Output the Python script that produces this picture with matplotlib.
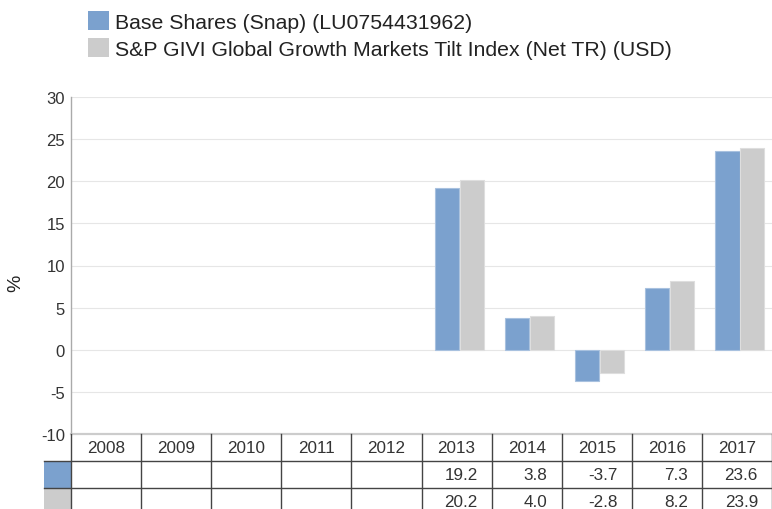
import matplotlib
matplotlib.use('Agg')
import matplotlib.pyplot as plt
import numpy as np
from matplotlib.patches import Patch, Rectangle

plt.rcParams['font.family'] = ['Liberation Sans', 'DejaVu Sans']
plt.rcParams['axes.unicode_minus'] = False

years = ['2008', '2009', '2010', '2011', '2012', '2013', '2014', '2015', '2016', '2017']
fund = [np.nan, np.nan, np.nan, np.nan, np.nan, 19.2, 3.8, -3.7, 7.3, 23.6]
index = [np.nan, np.nan, np.nan, np.nan, np.nan, 20.2, 4.0, -2.8, 8.2, 23.9]
names = ['Base Shares (Snap) (LU0754431962)',
         'S&P GIVI Global Growth Markets Tilt Index (Net TR) (USD)']
colors = ['#7BA1CE', '#CCCCCC']
edges = ['#A8C1DF', '#DEDEDE']

W, H = 772, 510
fig = plt.figure(figsize=(W / 100, H / 100), dpi=100)

# main plot area in pixels: x 71..772, y 98..435
ax = fig.add_axes([71 / W, 1 - 435 / H, 701 / W, 337 / H])
x = np.arange(len(years))
bw = 0.343
ax.bar(x - 0.135, fund, bw, color=colors[0], edgecolor=edges[0], lw=0.8, zorder=3)
ax.bar(x + 0.215, index, bw, color=colors[1], edgecolor=edges[1], lw=0.8, zorder=3)

ax.set_xlim(-0.5, len(years) - 0.5)
ax.set_ylim(-10, 30)
ax.set_yticks(range(-10, 31, 5))
ax.set_xticks([])
ax.grid(axis='y', color='#E6E6E6', lw=0.8, zorder=0)
ax.tick_params(axis='y', length=0, pad=4.5, labelsize=12, labelcolor='#333333')
for s in ['top', 'right']:
    ax.spines[s].set_visible(False)
ax.spines['left'].set_color('#AAAAAA')
ax.spines['left'].set_linewidth(1.0)
ax.spines['bottom'].set_color('#CCCCCC')
ax.spines['bottom'].set_linewidth(1.6)
ax.spines['bottom'].set_zorder(5)
ax.set_ylabel('%', fontsize=14, color='#222222')
ax.yaxis.set_label_coords(-0.066, 0.45)

# data table under the plot, same x scale as the bars; rows are 27px
lab_w = 27 / 70.1
tax = fig.add_axes([44 / W, 1 - 516 / H, 728 / W, 81 / H])
tax.set_xlim(-0.5 - lab_w, len(years) - 0.5)
tax.set_ylim(3, 0)
tax.axis('off')
line_kw = dict(color='#444444', lw=1.0, clip_on=False)
for k in range(len(years) + 1):
    tax.plot([k - 0.5, k - 0.5], [0, 3], **line_kw)
for r in [1, 2, 3]:
    tax.plot([-0.5 - lab_w, len(years) - 0.5], [r, r], **line_kw)
for j, yr in enumerate(years):
    tax.text(j, 0.5, yr, ha='center', va='center', fontsize=12.3, color='#333333')
for i, series in enumerate([fund, index]):
    tax.add_patch(Rectangle((-0.5 - lab_w, i + 1), lab_w, 1, facecolor=colors[i],
                            edgecolor='none', zorder=0))
    for j, v in enumerate(series):
        if not np.isnan(v):
            tax.text(j + 0.3, i + 1.5, '{:.1f}'.format(v), ha='right', va='center',
                     fontsize=12.3, color='#333333')

# legend top-left
handles = [Patch(facecolor=colors[0], edgecolor='none'),
           Patch(facecolor=colors[1], edgecolor='none')]
fig.legend(handles, names, loc='upper left', bbox_to_anchor=(88 / W, 1 - 12 / H),
           frameon=False, fontsize=15.3, handlelength=0.99, handleheight=0.99,
           handletextpad=0.27, labelspacing=0.3, borderpad=0, borderaxespad=0,
           labelcolor='#222222')

fig.savefig('out.png', dpi=100)
